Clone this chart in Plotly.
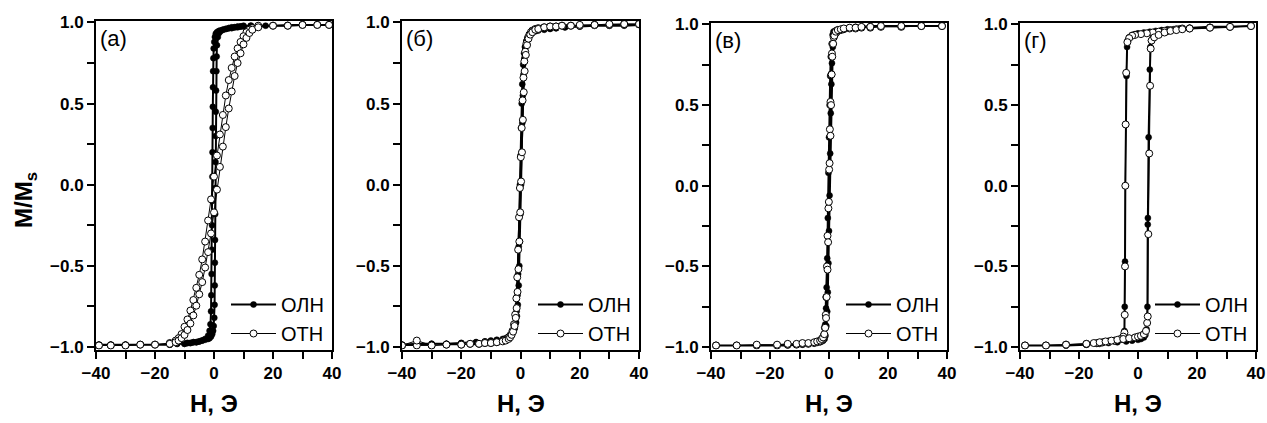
import plotly.graph_objects as go

W, H = 1267, 423

series_names = ["ОЛН", "ОТН"]
panel_labels = ["(а)", "(б)", "(в)", "(г)"]
x_title = "H, Э"
y_title = "M/M<sub>s</sub>"

# ---------------- panel (а) ----------------
h_a_olh = [39, 35, 30, 25, 20, 17.5, 15, 12.5, 10, 9, 8, 7, 6, 5, 4, 3, 2, 1.5, 1, 0.6, 0.3, 0.1, -0.1, -0.2,
           -0.3, -0.35, -0.4, -0.45, -0.5, -0.55, -0.6, -0.65, -0.7, -0.8, -0.9, -1.0, -1.2, -1.5, -2, -3, -4, -5,
           -6, -7, -8, -9, -10, -12.5, -15, -20, -25, -30, -35, -39,
           -39, -35, -30, -25, -20, -15, -12.5, -10, -9, -8, -7, -6, -5, -4, -3, -2, -1.5, -1, -0.6, -0.3, -0.1,
           0.1, 0.2, 0.25, 0.3, 0.35, 0.4, 0.45, 0.5, 0.55, 0.6, 0.7, 0.8, 0.9, 1.0, 1.3, 1.7, 2.2, 3, 4, 5, 6, 7,
           8, 9, 10, 12.5, 15, 20, 25, 30, 35, 39]
m_a_olh = [0.985, 0.985, 0.985, 0.98, 0.98, 0.98, 0.98, 0.98, 0.975, 0.975, 0.97, 0.97, 0.965, 0.965, 0.96, 0.955,
           0.95, 0.945, 0.94, 0.93, 0.91, 0.88, 0.84, 0.78, 0.70, 0.60, 0.48, 0.35, 0.20, 0.05, -0.10, -0.25, -0.40,
           -0.55, -0.68, -0.78, -0.86, -0.90, -0.93, -0.95, -0.96, -0.965, -0.97, -0.97, -0.975, -0.975, -0.98,
           -0.98, -0.985, -0.985, -0.985, -0.985, -0.985, -0.985,
           -0.985, -0.985, -0.985, -0.985, -0.985, -0.985, -0.98, -0.98, -0.975, -0.975, -0.97, -0.97, -0.965,
           -0.96, -0.955, -0.95, -0.945, -0.935, -0.92, -0.90, -0.87, -0.82, -0.74, -0.62, -0.48, -0.34, -0.18,
           -0.02, 0.14, 0.30, 0.45, 0.58, 0.70, 0.79, 0.86, 0.91, 0.935, 0.945, 0.955, 0.96, 0.965, 0.97, 0.97,
           0.975, 0.975, 0.98, 0.98, 0.98, 0.98, 0.985, 0.985, 0.985, 0.985]
h_a_oth = [39, 35, 30, 25, 20, 15, 13, 12, 11, 10, 9, 8, 7, 6, 5, 4, 3, 2, 1, 0, -1, -2, -3, -4, -5, -6, -7, -8,
           -9, -10, -11, -12, -13, -15, -20, -25, -30, -35, -39,
           -39, -35, -30, -25, -20, -15, -13, -12, -11, -10, -9, -8, -7, -6, -5, -4, -3, -2, -1, 0, 1, 2, 3, 4,
           5, 6, 7, 8, 9, 10, 11, 12, 13, 15, 20, 25, 30, 35, 39]
m_a_oth = [0.985, 0.985, 0.985, 0.98, 0.98, 0.98, 0.965, 0.955, 0.94, 0.915, 0.88, 0.84, 0.79, 0.72, 0.645, 0.55,
           0.43, 0.31, 0.18, 0.05, -0.09, -0.22, -0.35, -0.46, -0.555, -0.635, -0.71, -0.775, -0.83, -0.875,
           -0.92, -0.945, -0.96, -0.975, -0.985, -0.985, -0.99, -0.99, -0.99,
           -0.99, -0.99, -0.99, -0.985, -0.985, -0.98, -0.97, -0.96, -0.945, -0.925, -0.895, -0.855, -0.805,
           -0.745, -0.675, -0.60, -0.51, -0.415, -0.30, -0.17, -0.03, 0.11, 0.235, 0.355, 0.47, 0.575, 0.67,
           0.75, 0.81, 0.865, 0.905, 0.935, 0.955, 0.97, 0.98, 0.98, 0.985, 0.985, 0.985]

# ---------------- panel (б) ----------------
h_b_olh = [40, 35, 30, 25, 20, 15, 12, 10, 8, 6, 5, 4, 3, 2.5, 2, 1.5, 1.2, 0.9, 0.6, 0.4, 0.2, 0, -0.2, -0.4,
           -0.6, -0.8, -1.0, -1.3, -1.6, -2, -2.5, -3, -4, -5, -6, -8, -10, -12, -15, -20, -25, -30, -35, -40,
           -40, -35, -30, -25, -20, -15, -12, -10, -8, -6, -5, -4, -3, -2.5, -2, -1.5, -1.2, -0.9, -0.6, -0.4,
           -0.2, 0, 0.2, 0.4, 0.6, 0.8, 1.0, 1.3, 1.6, 2, 2.5, 3, 4, 5, 6, 8, 10, 12, 15, 20, 25, 30, 35, 40]
m_b_olh = [0.985, 0.985, 0.98, 0.98, 0.975, 0.97, 0.965, 0.96, 0.955, 0.95, 0.945, 0.935, 0.92, 0.905, 0.885,
           0.85, 0.81, 0.74, 0.62, 0.50, 0.35, 0.18, 0.0, -0.2, -0.38, -0.55, -0.68, -0.78, -0.845, -0.885, -0.91,
           -0.925, -0.94, -0.95, -0.955, -0.96, -0.965, -0.965, -0.97, -0.975, -0.98, -0.98, -0.98, -0.985,
           -0.985, -0.985, -0.98, -0.98, -0.975, -0.97, -0.965, -0.96, -0.955, -0.95, -0.945, -0.935, -0.92,
           -0.905, -0.885, -0.85, -0.81, -0.74, -0.62, -0.50, -0.35, -0.18, 0.0, 0.2, 0.38, 0.55, 0.68, 0.78,
           0.845, 0.885, 0.91, 0.925, 0.94, 0.95, 0.955, 0.96, 0.965, 0.965, 0.97, 0.975, 0.98, 0.98, 0.98, 0.985]
h_b_oth = [40, 35, 30, 25, 20, 17, 14, 12, 10, 8, 6, 5, 4, 3.5, 3, 2.5, 2, 1.6, 1.3, 1.0, 0.7, 0.4, 0.1, -0.2,
           -0.5, -0.8, -1.1, -1.4, -1.8, -2.2, -2.7, -3.3, -4, -5, -6, -8, -10, -12, -14, -17, -20, -25, -30,
           -35, -40,
           -40, -35, -30, -25, -20, -17, -14, -12, -10, -8, -6, -5, -4, -3.5, -3, -2.5, -2, -1.6, -1.3, -1.0,
           -0.7, -0.4, -0.1, 0.2, 0.5, 0.8, 1.1, 1.4, 1.8, 2.2, 2.7, 3.3, 4, 5, 6, 8, 10, 12, 14, 17, 20, 25,
           30, 35, 40]
m_b_oth = [0.99, 0.99, 0.985, 0.985, 0.98, 0.98, 0.98, 0.975, 0.975, 0.97, 0.965, 0.96, 0.95, 0.94, 0.925,
           0.905, 0.87, 0.82, 0.76, 0.66, 0.52, 0.35, 0.17, -0.02, -0.20, -0.40, -0.57, -0.70, -0.80, -0.86,
           -0.90, -0.925, -0.94, -0.955, -0.96, -0.97, -0.975, -0.975, -0.98, -0.98, -0.985, -0.985, -0.99,
           -0.99, -0.99,
           -0.99, -0.96, -0.99, -0.985, -0.985, -0.98, -0.98, -0.975, -0.975, -0.97, -0.965, -0.96, -0.95,
           -0.94, -0.925, -0.905, -0.87, -0.82, -0.76, -0.66, -0.52, -0.35, -0.17, 0.02, 0.20, 0.40, 0.57,
           0.70, 0.80, 0.86, 0.90, 0.925, 0.94, 0.955, 0.96, 0.97, 0.975, 0.975, 0.98, 0.98, 0.985, 0.985,
           0.99, 0.99, 0.99]

# ---------------- panel (в) ----------------
h_c_olh = [38.3, 31.3, 24.5, 17.6, 14, 11, 9, 7, 5, 4, 3, 2.5, 2, 1.5, 1.2, 0.9, 0.6, 0.4, 0.2, 0, -0.2, -0.4,
           -0.6, -0.8, -1.0, -1.3, -1.7, -2.2, -3, -4, -5, -7, -9, -11, -14, -17.6, -24.5, -31.3, -38.3,
           -38.3, -31.3, -24.5, -17.6, -14, -11, -9, -7, -5, -4, -3, -2.5, -2, -1.5, -1.2, -0.9, -0.6, -0.4,
           -0.2, 0, 0.2, 0.4, 0.6, 0.8, 1.0, 1.3, 1.7, 2.2, 3, 4, 5, 7, 9, 11, 14, 17.6, 24.5, 31.3, 38.3]
m_c_olh = [0.99, 0.99, 0.99, 0.99, 0.985, 0.985, 0.98, 0.98, 0.975, 0.97, 0.97, 0.965, 0.96, 0.955, 0.935,
           0.88, 0.80, 0.68, 0.50, 0.30, 0.08, -0.20, -0.45, -0.63, -0.76, -0.86, -0.92, -0.95, -0.965, -0.97,
           -0.975, -0.98, -0.985, -0.985, -0.99, -0.99, -0.99, -0.99, -0.99,
           -0.99, -0.99, -0.99, -0.99, -0.985, -0.985, -0.98, -0.98, -0.975, -0.97, -0.97, -0.965, -0.96,
           -0.95, -0.93, -0.87, -0.78, -0.66, -0.48, -0.28, -0.06, 0.20, 0.45, 0.63, 0.76, 0.86, 0.92, 0.95,
           0.965, 0.97, 0.975, 0.98, 0.985, 0.985, 0.99, 0.99, 0.99, 0.99, 0.99]
h_c_oth = [38.3, 31.3, 24.5, 17.6, 14, 11, 9, 7, 5, 4, 3, 2.5, 2, 1.6, 1.3, 1.0, 0.8, 0.5, 0.3, 0.05, -0.2,
           -0.5, -0.7, -0.9, -1.1, -1.4, -1.8, -2.3, -3, -4, -5, -7, -9, -11, -14, -17.6, -24.5, -31.3, -38.3,
           -38.3, -31.3, -24.5, -17.6, -14, -11, -9, -7, -5, -4, -3, -2.5, -2, -1.6, -1.3, -1.0, -0.8, -0.5,
           -0.3, -0.05, 0.2, 0.5, 0.7, 0.9, 1.1, 1.4, 1.8, 2.3, 3, 4, 5, 7, 9, 11, 14, 17.6, 24.5, 31.3, 38.3]
m_c_oth = [0.99, 0.99, 0.985, 0.985, 0.98, 0.98, 0.975, 0.975, 0.97, 0.965, 0.96, 0.95, 0.94, 0.92, 0.88,
           0.82, 0.69, 0.52, 0.35, 0.10, -0.14, -0.31, -0.50, -0.69, -0.80, -0.88, -0.93, -0.955, -0.965, -0.97,
           -0.975, -0.98, -0.98, -0.985, -0.985, -0.99, -0.99, -0.99, -0.99,
           -0.99, -0.99, -0.985, -0.985, -0.98, -0.98, -0.975, -0.975, -0.97, -0.965, -0.96, -0.95, -0.94,
           -0.92, -0.88, -0.82, -0.69, -0.52, -0.35, -0.10, 0.14, 0.31, 0.50, 0.69, 0.80, 0.88, 0.93, 0.955,
           0.965, 0.97, 0.975, 0.98, 0.98, 0.985, 0.985, 0.99, 0.99, 0.99, 0.99]

# ---------------- panel (г) ----------------
h_d_olh = [38.3, 31.2, 24.4, 17.5, 14, 12, 10, 8, 6, 4, 2, 0, -1, -2, -3, -3.5, -3.7, -3.9, -4.1, -4.3, -4.4,
           -4.5, -4.6, -5, -6, -7, -8, -10, -12, -14, -17.5, -24.4, -31.2, -38.3,
           -38.3, -31.2, -24.4, -17.5, -13, -10, -7, -4, -2, 0, 1, 2, 2.5, 2.9, 3.2, 3.3, 3.35, 3.6, 4.0, 4.2,
           4.5, 5, 6, 8, 10, 13, 17.5, 24.4, 31.2, 38.3]
m_d_olh = [0.99, 0.985, 0.985, 0.98, 0.975, 0.97, 0.97, 0.965, 0.96, 0.955, 0.95, 0.945, 0.94, 0.935, 0.92,
           0.90, 0.86, 0.68, 0.38, 0.0, -0.47, -0.75, -0.90, -0.94, -0.955, -0.96, -0.965, -0.97, -0.975, -0.98,
           -0.985, -0.99, -0.99, -0.99,
           -0.99, -0.99, -0.99, -0.985, -0.98, -0.975, -0.97, -0.965, -0.96, -0.955, -0.95, -0.94, -0.925,
           -0.89, -0.75, -0.24, -0.20, 0.30, 0.72, 0.86, 0.90, 0.92, 0.935, 0.95, 0.955, 0.965, 0.975, 0.98,
           0.985, 0.99]
h_d_oth = [38.3, 31.2, 24.4, 17.5, 15, 13, 11, 9, 7, 5, 3, 1, -1, -2, -3, -3.6, -4.0, -4.2, -4.3, -4.4, -4.5,
           -4.6, -5, -6, -8, -10, -12, -14, -17.5, -24.4, -31.2, -38.3,
           -38.3, -31.2, -24.4, -17.5, -15, -13, -11, -9, -7, -5, -3, -1, 0, 1, 2, 2.7, 3.1, 3.3, 3.5, 3.8, 4.1,
           4.3, 4.6, 5.5, 7, 9, 11, 13, 15, 17.5, 24.4, 31.2, 38.3]
m_d_oth = [0.99, 0.985, 0.98, 0.975, 0.975, 0.97, 0.965, 0.96, 0.955, 0.95, 0.945, 0.94, 0.935, 0.93, 0.915,
           0.89, 0.70, 0.38, 0.0, -0.50, -0.80, -0.91, -0.935, -0.95, -0.96, -0.965, -0.97, -0.975, -0.98,
           -0.985, -0.99, -0.99,
           -0.99, -0.99, -0.985, -0.98, -0.975, -0.97, -0.965, -0.96, -0.955, -0.95, -0.945, -0.94, -0.935,
           -0.93, -0.92, -0.90, -0.85, -0.81, -0.30, 0.20, 0.62, 0.85, 0.90, 0.92, 0.935, 0.95, 0.96, 0.965,
           0.97, 0.975, 0.98, 0.985, 0.99]

panels = [
    (h_a_olh, m_a_olh, h_a_oth, m_a_oth),
    (h_b_olh, m_b_olh, h_b_oth, m_b_oth),
    (h_c_olh, m_c_olh, h_c_oth, m_c_oth),
    (h_d_olh, m_d_olh, h_d_oth, m_d_oth),
]

# layout geometry (pixels)
x_px = [(96, 332), (402, 639), (711, 947), (1020, 1256)]
y_px = [(20.5, 349.5), (20.5, 349.5), (22.5, 349.5), (22.5, 349.5)]

FONT = "Arial, 'Liberation Sans', sans-serif"

fig = go.Figure()
layout = dict(
    width=W, height=H, autosize=False,
    margin=dict(l=0, r=0, t=0, b=0, pad=0, autoexpand=False),
    paper_bgcolor="white", plot_bgcolor="white",
    font=dict(family=FONT, color="black"),
    annotations=[],
)

for i, (h1, m1, h2, m2) in enumerate(panels):
    k = "" if i == 0 else str(i + 1)
    xa, ya = "x" + k, "y" + k
    lg = "legend" + k
    fig.add_trace(go.Scatter(
        x=h1, y=m1, xaxis=xa, yaxis=ya, name=series_names[0], legend=lg,
        mode="lines+markers",
        line=dict(color="black", width=2),
        marker=dict(symbol="circle", size=6, color="black", line=dict(color="black", width=0.5)),
    ))
    fig.add_trace(go.Scatter(
        x=h2, y=m2, xaxis=xa, yaxis=ya, name=series_names[1], legend=lg,
        mode="lines+markers",
        line=dict(color="black", width=1),
        marker=dict(symbol="circle", size=7, color="white", line=dict(color="black", width=1)),
    ))
    x0, x1 = x_px[i]
    yt, yb = y_px[i]
    axis_common = dict(
        showline=True, linecolor="black", linewidth=2, mirror=True,
        showgrid=False, zeroline=False, automargin=False,
        ticks="outside", ticklen=7, tickwidth=2, tickcolor="black",
        tickfont=dict(family=FONT, size=17, color="black", weight="bold"),
    )
    layout["xaxis" + k] = dict(
        axis_common, domain=[x0 / W, x1 / W], anchor=ya,
        range=[-40, 40], tick0=-40, dtick=20, ticklabelstandoff=0,
        minor=dict(dtick=10, ticks="outside", ticklen=7, tickwidth=2, tickcolor="black"),
    )
    layout["yaxis" + k] = dict(
        axis_common, domain=[1 - yb / H, 1 - yt / H], anchor=xa,
        range=[-1.015, 1.012], tick0=0, dtick=0.5, tickformat=".1f",
        minor=dict(dtick=0.25, ticks="outside", ticklen=7, tickwidth=2, tickcolor="black"),
    )
    layout[lg] = dict(
        x=(x1 - 3) / W, xanchor="right", y=1 - 285 / H, yanchor="top",
        bgcolor="rgba(0,0,0,0)", borderwidth=0,
        font=dict(family=FONT, size=20, color="black"),
        itemwidth=45, tracegroupgap=0,
    )
    layout["annotations"].append(dict(
        text=panel_labels[i], xref=xa + " domain", yref=ya + " domain",
        x=0.01, y=0.945, xanchor="left", yanchor="middle", showarrow=False,
        font=dict(family=FONT, size=22, color="black"),
    ))
    layout["annotations"].append(dict(
        text="<b>" + x_title + "</b>", xref="paper", yref="paper",
        x=(x0 + x1) / 2 / W, y=1 - 403 / H, xanchor="center", yanchor="middle", showarrow=False,
        font=dict(family=FONT, size=24, color="black"),
    ))

layout["annotations"].append(dict(
    text="<b>" + y_title + "</b>", xref="paper", yref="paper",
    x=25 / W, y=1 - 200 / H, xanchor="center", yanchor="middle", showarrow=False, textangle=-90,
    font=dict(family=FONT, size=24, color="black"),
))

fig.update_layout(**layout)
fig.write_html(
    "out.html",
    config={"displayModeBar": False},
    post_script="document.body.style.margin='0';document.body.style.overflow='hidden';",
)
